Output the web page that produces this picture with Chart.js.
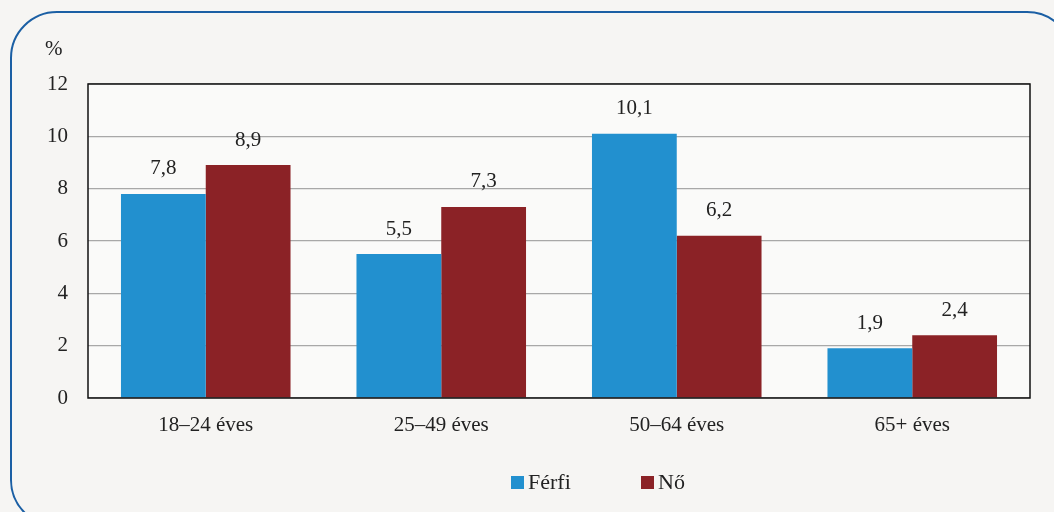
<!DOCTYPE html>
<html lang="hu">
<head>
<meta charset="utf-8">
<title>Korcsoportok szerint</title>
<script src="https://cdn.jsdelivr.net/npm/chart.js@4"></script>
<style>
  html, body { margin: 0; padding: 0; background: #f6f5f3; }
  #wrap { width: 1054px; height: 512px; position: relative; overflow: hidden; }
</style>
</head>
<body>
<div id="wrap"><canvas id="ageChart" width="1054" height="512"></canvas></div>
<script>
// Age groups and shares (%) by sex
const ageGroups = ['18–24 éves', '25–49 éves', '50–64 éves', '65+ éves'];
const maleValues = [7.8, 5.5, 10.1, 1.9];
const femaleValues = [8.9, 7.3, 6.2, 2.4];
const yTicks = [0, 2, 4, 6, 8, 10, 12];

const FONT = '"Liberation Serif", "DejaVu Serif", serif';
const BLUE = '#2290cf';
const RED = '#8b2226';

// frame, plot border, unit label, value labels and legend
const decorPlugin = {
    id: 'decor',
    beforeDraw(chart) {
        const ctx = chart.ctx;
        const a = chart.chartArea;
        ctx.save();
        ctx.fillStyle = '#f6f5f3';
        ctx.fillRect(0, 0, chart.width, chart.height);
        ctx.fillStyle = '#fafaf9';
        ctx.fillRect(a.left, a.top, a.right - a.left, a.bottom - a.top);
        // rounded outer frame
        ctx.strokeStyle = '#1b5fa4';
        ctx.lineWidth = 2;
        ctx.beginPath();
        ctx.roundRect(11, 12, 1062, 514, 46);
        ctx.stroke();
        ctx.restore();
    },
    afterDraw(chart) {
        const ctx = chart.ctx;
        const a = chart.chartArea;
        ctx.save();
        ctx.strokeStyle = '#111';
        ctx.lineWidth = 1.5;
        ctx.strokeRect(a.left, a.top, a.right - a.left, a.bottom - a.top);

        ctx.fillStyle = '#222';
        ctx.font = '21px ' + FONT;
        ctx.textAlign = 'left';
        ctx.textBaseline = 'middle';
        ctx.fillText('%', 45, 49);

        // values above the bars
        ctx.font = '21px ' + FONT;
        ctx.textAlign = 'center';
        chart.data.datasets.forEach((ds, i) => {
            chart.getDatasetMeta(i).data.forEach((bar, j) => {
                const txt = ds.data[j].toFixed(1).replace('.', ',');
                ctx.fillText(txt, bar.x, bar.y - 25);
            });
        });

        // legend
        const items = [
            { x: 511, ds: chart.data.datasets[0] },
            { x: 641, ds: chart.data.datasets[1] }
        ];
        ctx.font = '22px ' + FONT;
        ctx.textAlign = 'left';
        items.forEach(it => {
            ctx.fillStyle = it.ds.backgroundColor;
            ctx.fillRect(it.x, 476, 13, 13);
            ctx.fillStyle = '#222';
            ctx.fillText(it.ds.label, it.x + 17, 483);
        });
        ctx.restore();
    }
};

new Chart(document.getElementById('ageChart'), {
    type: 'bar',
    data: {
        labels: ageGroups,
        datasets: [
            { label: 'Férfi', data: maleValues, backgroundColor: BLUE },
            { label: 'Nő', data: femaleValues, backgroundColor: RED }
        ]
    },
    options: {
        responsive: false,
        animation: false,
        layout: { padding: { top: 84, right: 24, bottom: 0, left: 0 } },
        datasets: { bar: { barPercentage: 1, categoryPercentage: 0.72 } },
        plugins: { legend: { display: false }, tooltip: { enabled: false } },
        scales: {
            x: {
                grid: { display: false, drawTicks: false },
                border: { display: false },
                ticks: { color: '#222', font: { family: FONT, size: 21 }, padding: 15 },
                afterFit(scale) { scale.height = 114; }
            },
            y: {
                min: 0,
                max: 12,
                afterBuildTicks(scale) { scale.ticks = yTicks.map(v => ({ value: v })); },
                grid: { color: '#a8a8a8', lineWidth: 1.2, drawTicks: false },
                border: { display: false },
                ticks: { color: '#222', font: { family: FONT, size: 21 }, padding: 20 },
                afterFit(scale) { scale.width = 88; }
            }
        }
    },
    plugins: [decorPlugin]
});
</script>
</body>
</html>
